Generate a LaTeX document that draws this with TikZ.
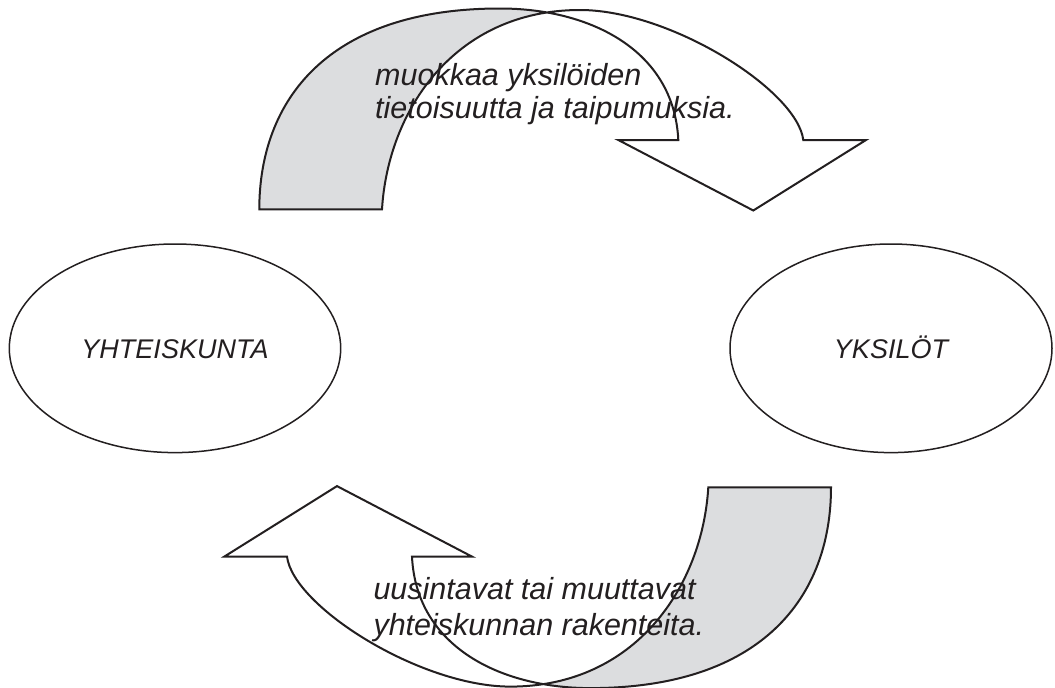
\documentclass[tikz,border=0pt]{standalone}
\usepackage{fontspec}
\setmainfont{Liberation Sans}
\usetikzlibrary{shapes.geometric}
\definecolor{bandgray}{RGB}{220,221,223}
\definecolor{ink}{RGB}{35,31,32}
\tikzset{
  band/.style={draw=ink, line width=2pt, line join=miter},
  ell/.style={ellipse, draw=ink, line width=1.5pt, inner sep=0pt, text=ink,
    font=\fontsize{27}{30}\selectfont\itshape, text height=19.5pt, text depth=0pt},
  lbl/.style={inner sep=0pt, text=ink, font=\fontsize{30.5}{33}\selectfont\itshape}
}
\newcommand{\drawCurvedBand}{%
  \fill[bandgray] (259.3,209.3) .. controls (259.3,100.3) and (327.6,8.5) .. (500,8.5)
     .. controls (590,8.5) and (674,50) .. (678.3,140) -- (678.3,209.3) -- cycle;
  \fill[white] (382,209.3) .. controls (388,110) and (455,10) .. (580,10)
     .. controls (670,10) and (797,90) .. (803.3,140) -- (803.3,216) -- (382,216) -- cycle;
  \draw[band] (259.3,209.3) .. controls (259.3,100.3) and (327.6,8.5) .. (500,8.5)
     .. controls (590,8.5) and (674,50) .. (678.3,140)
     -- (618.3,140) -- (753.3,210.5) -- (866,140) -- (803.3,140)
     .. controls (797,90) and (670,10) .. (580,10)
     .. controls (455,10) and (388,110) .. (382,209.3) -- cycle;
}
\begin{document}
\begin{tikzpicture}[x=1pt,y=-1pt]
\useasboundingbox (0,0) rectangle (1055,688);
\fill[white] (0,0) rectangle (1055,688);
% top curved arrow
\begin{scope}
  \drawCurvedBand
\end{scope}
% bottom curved arrow (point-symmetric copy)
\begin{scope}[rotate around={180:(545.15,348.3)}]
  \drawCurvedBand
\end{scope}
% ellipses
\node[ell, minimum width=331.4pt, minimum height=208.6pt] (soc) at (175,348.3) {YHTEISKUNTA};
\node[ell, minimum width=322pt, minimum height=208.6pt] (ind) at (891,348.3) {YKSILÖT};
% labels
\node[lbl, anchor=base west] (t1) at (375,85) {muokkaa yksilöiden};
\node[lbl, anchor=base west] (t2) at (375,118.5) {tietoisuutta ja taipumuksia.};
\node[lbl, anchor=base west] (b1) at (373.3,599.3) {uusintavat tai muuttavat};
\node[lbl, anchor=base west] (b2) at (373.3,635) {yhteiskunnan rakenteita.};
\end{tikzpicture}
\end{document}
